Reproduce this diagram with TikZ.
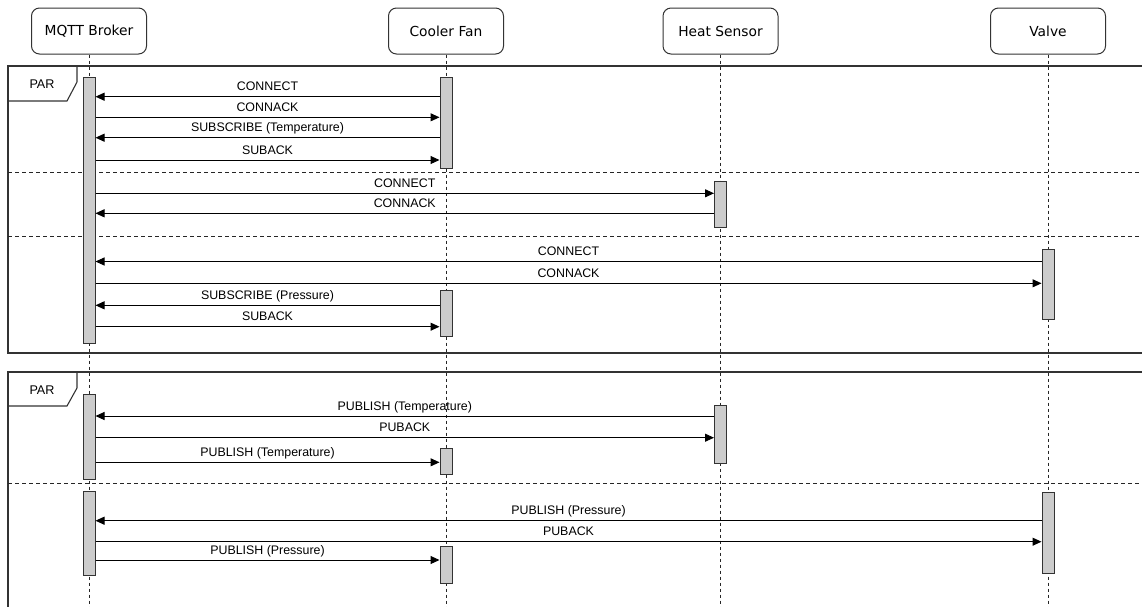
\documentclass[tikz,border=0pt]{standalone}
\usepackage{fontspec}
\setmainfont{Liberation Sans}
\newfontfamily\actorfont{DejaVu Sans}
\usepackage{tikz}
\usetikzlibrary{arrows.meta,positioning,calc}
\definecolor{framegray}{RGB}{51,51,51}
\definecolor{barfill}{RGB}{204,204,204}

\begin{document}
\begin{tikzpicture}[x=1pt, y=-1pt, >={Triangle[length=9pt,width=8pt]},
        actor/.style={draw=framegray, fill=white, rounded corners=8pt, minimum width=115pt, minimum height=46pt, inner sep=0pt, line width=1pt, font=\actorfont\fontsize{13.8}{16}\selectfont},
        lifeline/.style={draw=black!85, dash pattern=on 3pt off 3pt, line width=0.9pt},
        act/.style={draw=framegray, fill=barfill, minimum width=12pt, inner sep=0pt, line width=1pt},
        msg/.style={->, line width=1pt, draw=black},
        lbl/.style={midway, anchor=base, yshift=6pt, inner sep=0pt, font=\fontsize{12.4}{14}\selectfont},
        frag/.style={draw=framegray, line width=1.1pt},
        sep/.style={draw=black!85, dash pattern=on 4pt off 3pt, line width=0.9pt}]
        \useasboundingbox[fill=white] (0,0) rectangle (1142,606);
        \coordinate (bottom) at (0,612);

        % Fragment 1 (connect / subscribe)
        \draw[frag] (8,66) rectangle (1150,353);
        \draw[frag] (8,66) -| (77,82) -- (67,101) -- (8,101);
        \node[font=\fontsize{12.6}{14}\selectfont] (par1) at (42,84) {PAR};
        \draw[sep] (8,172) -- (1150,172);
        \draw[sep] (8,236) -- (1150,236);

        % Fragment 2 (publish)
        \draw[frag] (8,372) rectangle (1150,620);
        \draw[frag] (8,372) -| (77,388) -- (67,406) -- (8,406);
        \node[font=\fontsize{12.6}{14}\selectfont] (par2) at (42,390) {PAR};
        \draw[sep] (8,483) -- (1150,483);

        % Participants and lifelines
        \node[actor] (broker) at (89,31) {MQTT Broker};
        \node[actor] (fan) at (446,31) {Cooler Fan};
        \node[actor] (heat) at (720.5,31) {Heat Sensor};
        \node[actor] (valve) at (1048,31) {Valve};
        \draw[lifeline] (broker.south) -- (broker.south |- bottom);
        \draw[lifeline] (fan.south) -- (fan.south |- bottom);
        \draw[lifeline] (heat.south) -- (heat.south |- bottom);
        \draw[lifeline] (valve.south) -- (valve.south |- bottom);

        % Activation bars
        \node[act, minimum height=266pt] (brk1) at (89,210) {};
        \node[act, minimum height=91pt] (fan1) at (446,122.5) {};
        \node[act, minimum height=46pt] (heat1) at (720.5,204) {};
        \node[act, minimum height=70pt] (valve1) at (1048,284) {};
        \node[act, minimum height=46pt] (fan2) at (446,313) {};
        \node[act, minimum height=85pt] (brk2) at (89,436.5) {};
        \node[act, minimum height=58pt] (heat2) at (720.5,434) {};
        \node[act, minimum height=26pt] (fan3) at (446,461) {};
        \node[act, minimum height=84pt] (brk3) at (89,533) {};
        \node[act, minimum height=81pt] (valve2) at (1048,532.5) {};
        \node[act, minimum height=37pt] (fan4) at (446,564.5) {};

        % Cooler Fan connects and subscribes
        \draw[msg] (fan1.west |- 0,96.7) -- node[lbl] {CONNECT} (brk1.east |- 0,96.7);
        \draw[msg] (brk1.east |- 0,117.3) -- node[lbl] {CONNACK} (fan1.west |- 0,117.3);
        \draw[msg] (fan1.west |- 0,137.7) -- node[lbl] {SUBSCRIBE (Temperature)} (brk1.east |- 0,137.7);
        \draw[msg] (brk1.east |- 0,160) -- node[lbl] {SUBACK} (fan1.west |- 0,160);

        % Heat Sensor connects
        \draw[msg] (brk1.east |- 0,193.3) -- node[lbl] {CONNECT} (heat1.west |- 0,193.3);
        \draw[msg] (heat1.west |- 0,213.3) -- node[lbl] {CONNACK} (brk1.east |- 0,213.3);

        % Valve connects, fan subscribes to pressure
        \draw[msg] (valve1.west |- 0,261.5) -- node[lbl] {CONNECT} (brk1.east |- 0,261.5);
        \draw[msg] (brk1.east |- 0,283.3) -- node[lbl] {CONNACK} (valve1.west |- 0,283.3);
        \draw[msg] (fan2.west |- 0,305.3) -- node[lbl] {SUBSCRIBE (Pressure)} (brk1.east |- 0,305.3);
        \draw[msg] (brk1.east |- 0,326.7) -- node[lbl] {SUBACK} (fan2.west |- 0,326.7);

        % Temperature publish
        \draw[msg] (heat2.west |- 0,416) -- node[lbl] {PUBLISH (Temperature)} (brk2.east |- 0,416);
        \draw[msg] (brk2.east |- 0,437.7) -- node[lbl] {PUBACK} (heat2.west |- 0,437.7);
        \draw[msg] (brk2.east |- 0,462.3) -- node[lbl] {PUBLISH (Temperature)} (fan3.west |- 0,462.3);

        % Pressure publish
        \draw[msg] (valve2.west |- 0,520.7) -- node[lbl] {PUBLISH (Pressure)} (brk3.east |- 0,520.7);
        \draw[msg] (brk3.east |- 0,541.7) -- node[lbl] {PUBACK} (valve2.west |- 0,541.7);
        \draw[msg] (brk3.east |- 0,560) -- node[lbl] {PUBLISH (Pressure)} (fan4.west |- 0,560);
    \end{tikzpicture}
\end{document}
